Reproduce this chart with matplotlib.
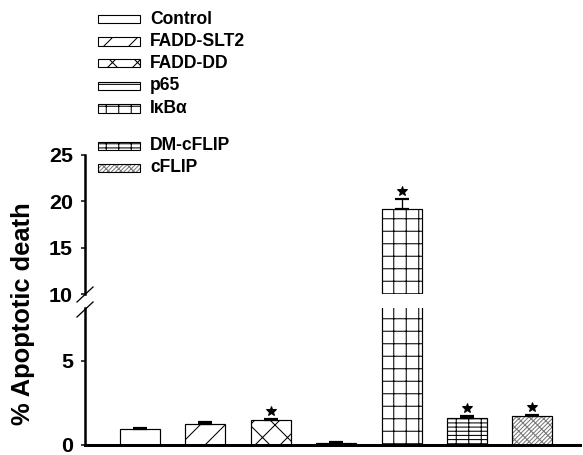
import matplotlib
matplotlib.use("Agg")
import matplotlib.pyplot as plt
from matplotlib.patches import Rectangle
from matplotlib.lines import Line2D
from matplotlib import transforms
import numpy as np

# ---- data ----
categories = ['Control', 'FADD-SLT2', 'FADD-DD', 'p65', 'I\u03baB\u03b1', 'DM-cFLIP', 'cFLIP']
values = [0.95, 1.27, 1.47, 0.12, 19.2, 1.63, 1.71]
errors = [0.05, 0.07, 0.07, 0.05, 1.0, 0.12, 0.07]
significant = [False, False, True, False, True, True, True]
hatches = ['', '/', 'x', '-', '+', '--+', '//////\\\\']
legend_hatches = ['', '/', 'x', '--', '+', '--+', '//////\\\\']
hatch_colors = ['black', 'black', 'black', 'black', 'black', 'black', '#7a7a7a']
lower_ticks = [0, 5]
upper_ticks = [10, 15, 20, 25]
ylabel = '% Apoptotic death'

DPI = 75
W, H = 583, 455
PT = 72.0 / DPI  # px -> pt

plt.rcParams['font.family'] = ['Liberation Sans', 'DejaVu Sans']
plt.rcParams['font.weight'] = 'bold'
plt.rcParams['hatch.linewidth'] = 1.0

fig = plt.figure(figsize=(W / DPI, H / DPI), dpi=DPI)


def fx(px):
    return px / W


def fy(py):
    return 1 - py / H


ax_left, ax_right = 85, 580
low_top, low_bot = 308, 445
up_top, up_bot = 155, 294

ax_lo = fig.add_axes([fx(ax_left), fy(low_bot), (ax_right - ax_left) / W, (low_bot - low_top) / H])
ax_hi = fig.add_axes([fx(ax_left), fy(up_bot), (ax_right - ax_left) / W, (up_bot - up_top) / H])

x = np.arange(len(categories))
bar_w = 0.61
zeros = np.zeros(len(values))

for ax in (ax_lo, ax_hi):
    for i in range(len(categories)):
        ax.bar(x[i], values[i], width=bar_w, color='white', edgecolor=hatch_colors[i],
               hatch=hatches[i], linewidth=0, zorder=2)
        ax.bar(x[i], values[i], width=bar_w, fill=False, edgecolor='black',
               linewidth=1.2 * PT, zorder=3)
    ax.errorbar(x, values, yerr=[zeros, errors], fmt='none', ecolor='black',
                elinewidth=1.3 * PT, capsize=7 * PT, capthick=2.2 * PT, zorder=4)
    star_tr = transforms.offset_copy(ax.transData, fig=fig, y=8, units='dots')
    sx = [x[i] for i in range(len(x)) if significant[i]]
    sy = [values[i] + errors[i] for i in range(len(x)) if significant[i]]
    ax.plot(sx, sy, linestyle='none', marker='*', markersize=10.5 * PT, color='black',
            transform=star_tr, zorder=5)
    ax.set_xlim(-0.841, 6.728)
    ax.set_xticks([])
    for s in ('top', 'right'):
        ax.spines[s].set_visible(False)
    ax.spines['left'].set_linewidth(2.5 * PT)
    ax.tick_params(axis='y', direction='out', length=4 * PT, width=1.5 * PT,
                   pad=8 * PT, labelsize=21.5 * PT)
    ax.patch.set_alpha(0)

ax_lo.set_ylim(0, 8.15)
ax_lo.set_yticks(lower_ticks)
ax_lo.spines['bottom'].set_linewidth(3 * PT)
ax_hi.set_ylim(10, 25)
ax_hi.set_yticks(upper_ticks)
ax_hi.spines['bottom'].set_visible(False)
for ax in (ax_lo, ax_hi):
    for lab in ax.get_yticklabels():
        lab.set_fontweight('bold')

# break marks
for (x0, y0, x1, y1) in [(77, 302, 93, 287), (77, 317, 93, 302)]:
    fig.add_artist(Line2D([fx(x0), fx(x1)], [fy(y0), fy(y1)], transform=fig.transFigure,
                          color='black', linewidth=1.3 * PT))

# y label
fig.text(fx(23), fy(314), ylabel, rotation=90, ha='center', va='center',
         fontsize=25.5 * PT, fontweight='bold')

# legend
leg_y = [19, 41.5, 63, 86, 108.5, 146, 168]
box_x0, box_x1, box_h = 98, 140, 8
for i, cy in enumerate(leg_y):
    r1 = Rectangle((fx(box_x0), fy(cy + box_h / 2)), (box_x1 - box_x0) / W, box_h / H,
                   transform=fig.transFigure, facecolor='white', edgecolor=hatch_colors[i],
                   hatch=legend_hatches[i], linewidth=0)
    r2 = Rectangle((fx(box_x0), fy(cy + box_h / 2)), (box_x1 - box_x0) / W, box_h / H,
                   transform=fig.transFigure, fill=False, edgecolor='black',
                   linewidth=1.1 * PT)
    fig.add_artist(r1)
    fig.add_artist(r2)
    fig.text(fx(150), fy(cy), categories[i], ha='left', va='center',
             fontsize=17.5 * PT, fontweight='bold')

fig.savefig('out.png', dpi=DPI, facecolor='white')
